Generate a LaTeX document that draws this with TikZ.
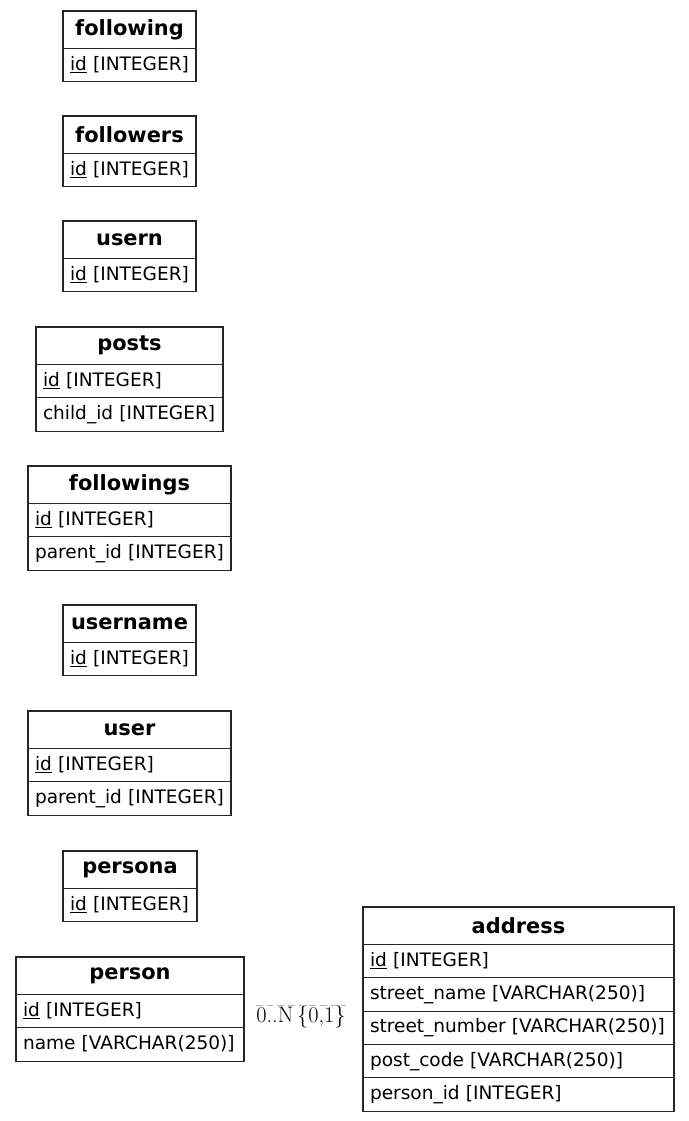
\documentclass[tikz,border=0pt]{standalone}
\usepackage{fontspec}
\usepackage{tikz}
\usetikzlibrary{positioning}
\newfontfamily\tabfont{DejaVu Sans}
\newcommand{\tabsize}{\fontsize{13.9}{16}\selectfont}
\newcommand{\headsize}{\fontsize{15.7}{18}\selectfont}

\tikzset{
  tblhead/.style={draw=black!85, line width=0.8pt, anchor=north west, inner sep=0pt, outer sep=0pt,
    minimum width=#1*0.75pt, minimum height=28.1pt, font=\tabfont\headsize\bfseries},
  tblrow/.style={draw=black!85, line width=0.8pt, inner xsep=5.25pt, inner ysep=0pt, outer sep=0pt,
    text width=#1*0.75pt-10.5pt, align=left, minimum height=25pt,
    text height=10.5pt, text depth=3pt, font=\tabfont\tabsize},
  rellabel/.style={inner sep=0pt, font=\fontsize{16.8}{18}\selectfont},
  reldash/.style={draw=gray!60, line width=0.4pt, dash pattern=on 5pt off 3pt}
}

\begin{document}
\begin{tikzpicture}[x=0.75pt,y=-0.75pt]
\useasboundingbox (0,0) rectangle (689,1121);

\node[tblhead=133] (following) at (63,11) {following};
\node[tblrow=133, below=0pt of following] (followingid) {\underline{id} [INTEGER]};

\node[tblhead=133] (followers) at (63,116) {followers};
\node[tblrow=133, below=0pt of followers] (followersid) {\underline{id} [INTEGER]};

\node[tblhead=133] (usern) at (63,221) {usern};
\node[tblrow=133, below=0pt of usern] (usernid) {\underline{id} [INTEGER]};

\node[tblhead=187] (posts) at (36,327) {posts};
\node[tblrow=187, below=0pt of posts] (postsid) {\underline{id} [INTEGER]};
\node[tblrow=187, below=0pt of postsid] (postschild) {child\_id [INTEGER]};

\node[tblhead=203] (followings) at (28,466) {followings};
\node[tblrow=203, below=0pt of followings] (followingsid) {\underline{id} [INTEGER]};
\node[tblrow=203, below=0pt of followingsid] (followingsparent) {parent\_id [INTEGER]};

\node[tblhead=133] (username) at (63,605) {username};
\node[tblrow=133, below=0pt of username] (usernameid) {\underline{id} [INTEGER]};

\node[tblhead=203] (user) at (28,711) {user};
\node[tblrow=203, below=0pt of user] (userid) {\underline{id} [INTEGER]};
\node[tblrow=203, below=0pt of userid] (userparent) {parent\_id [INTEGER]};

\node[tblhead=134] (persona) at (63,851) {persona};
\node[tblrow=134, below=0pt of persona] (personaid) {\underline{id} [INTEGER]};

\node[tblhead=228] (person) at (16,957) {person};
\node[tblrow=228, below=0pt of person] (personid) {\underline{id} [INTEGER]};
\node[tblrow=228, below=0pt of personid] (personname) {name [VARCHAR(250)]};

\node[tblhead=311] (address) at (363,907) {address};
\node[tblrow=311, below=0pt of address] (addressid) {\underline{id} [INTEGER]};
\node[tblrow=311, below=0pt of addressid] (addressstreet) {street\_name [VARCHAR(250)]};
\node[tblrow=311, below=0pt of addressstreet] (addressnumber) {street\_number [VARCHAR(250)]};
\node[tblrow=311, below=0pt of addressnumber] (addresscode) {post\_code [VARCHAR(250)]};
\node[tblrow=311, below=0pt of addresscode] (addressperson) {person\_id [INTEGER]};

% person -- address
\node[rellabel] (relation) at (301,1017) {0..N\,\{0,1\}};
\draw[reldash] (relation.north west) -- (relation.north east);
\end{tikzpicture}
\end{document}
